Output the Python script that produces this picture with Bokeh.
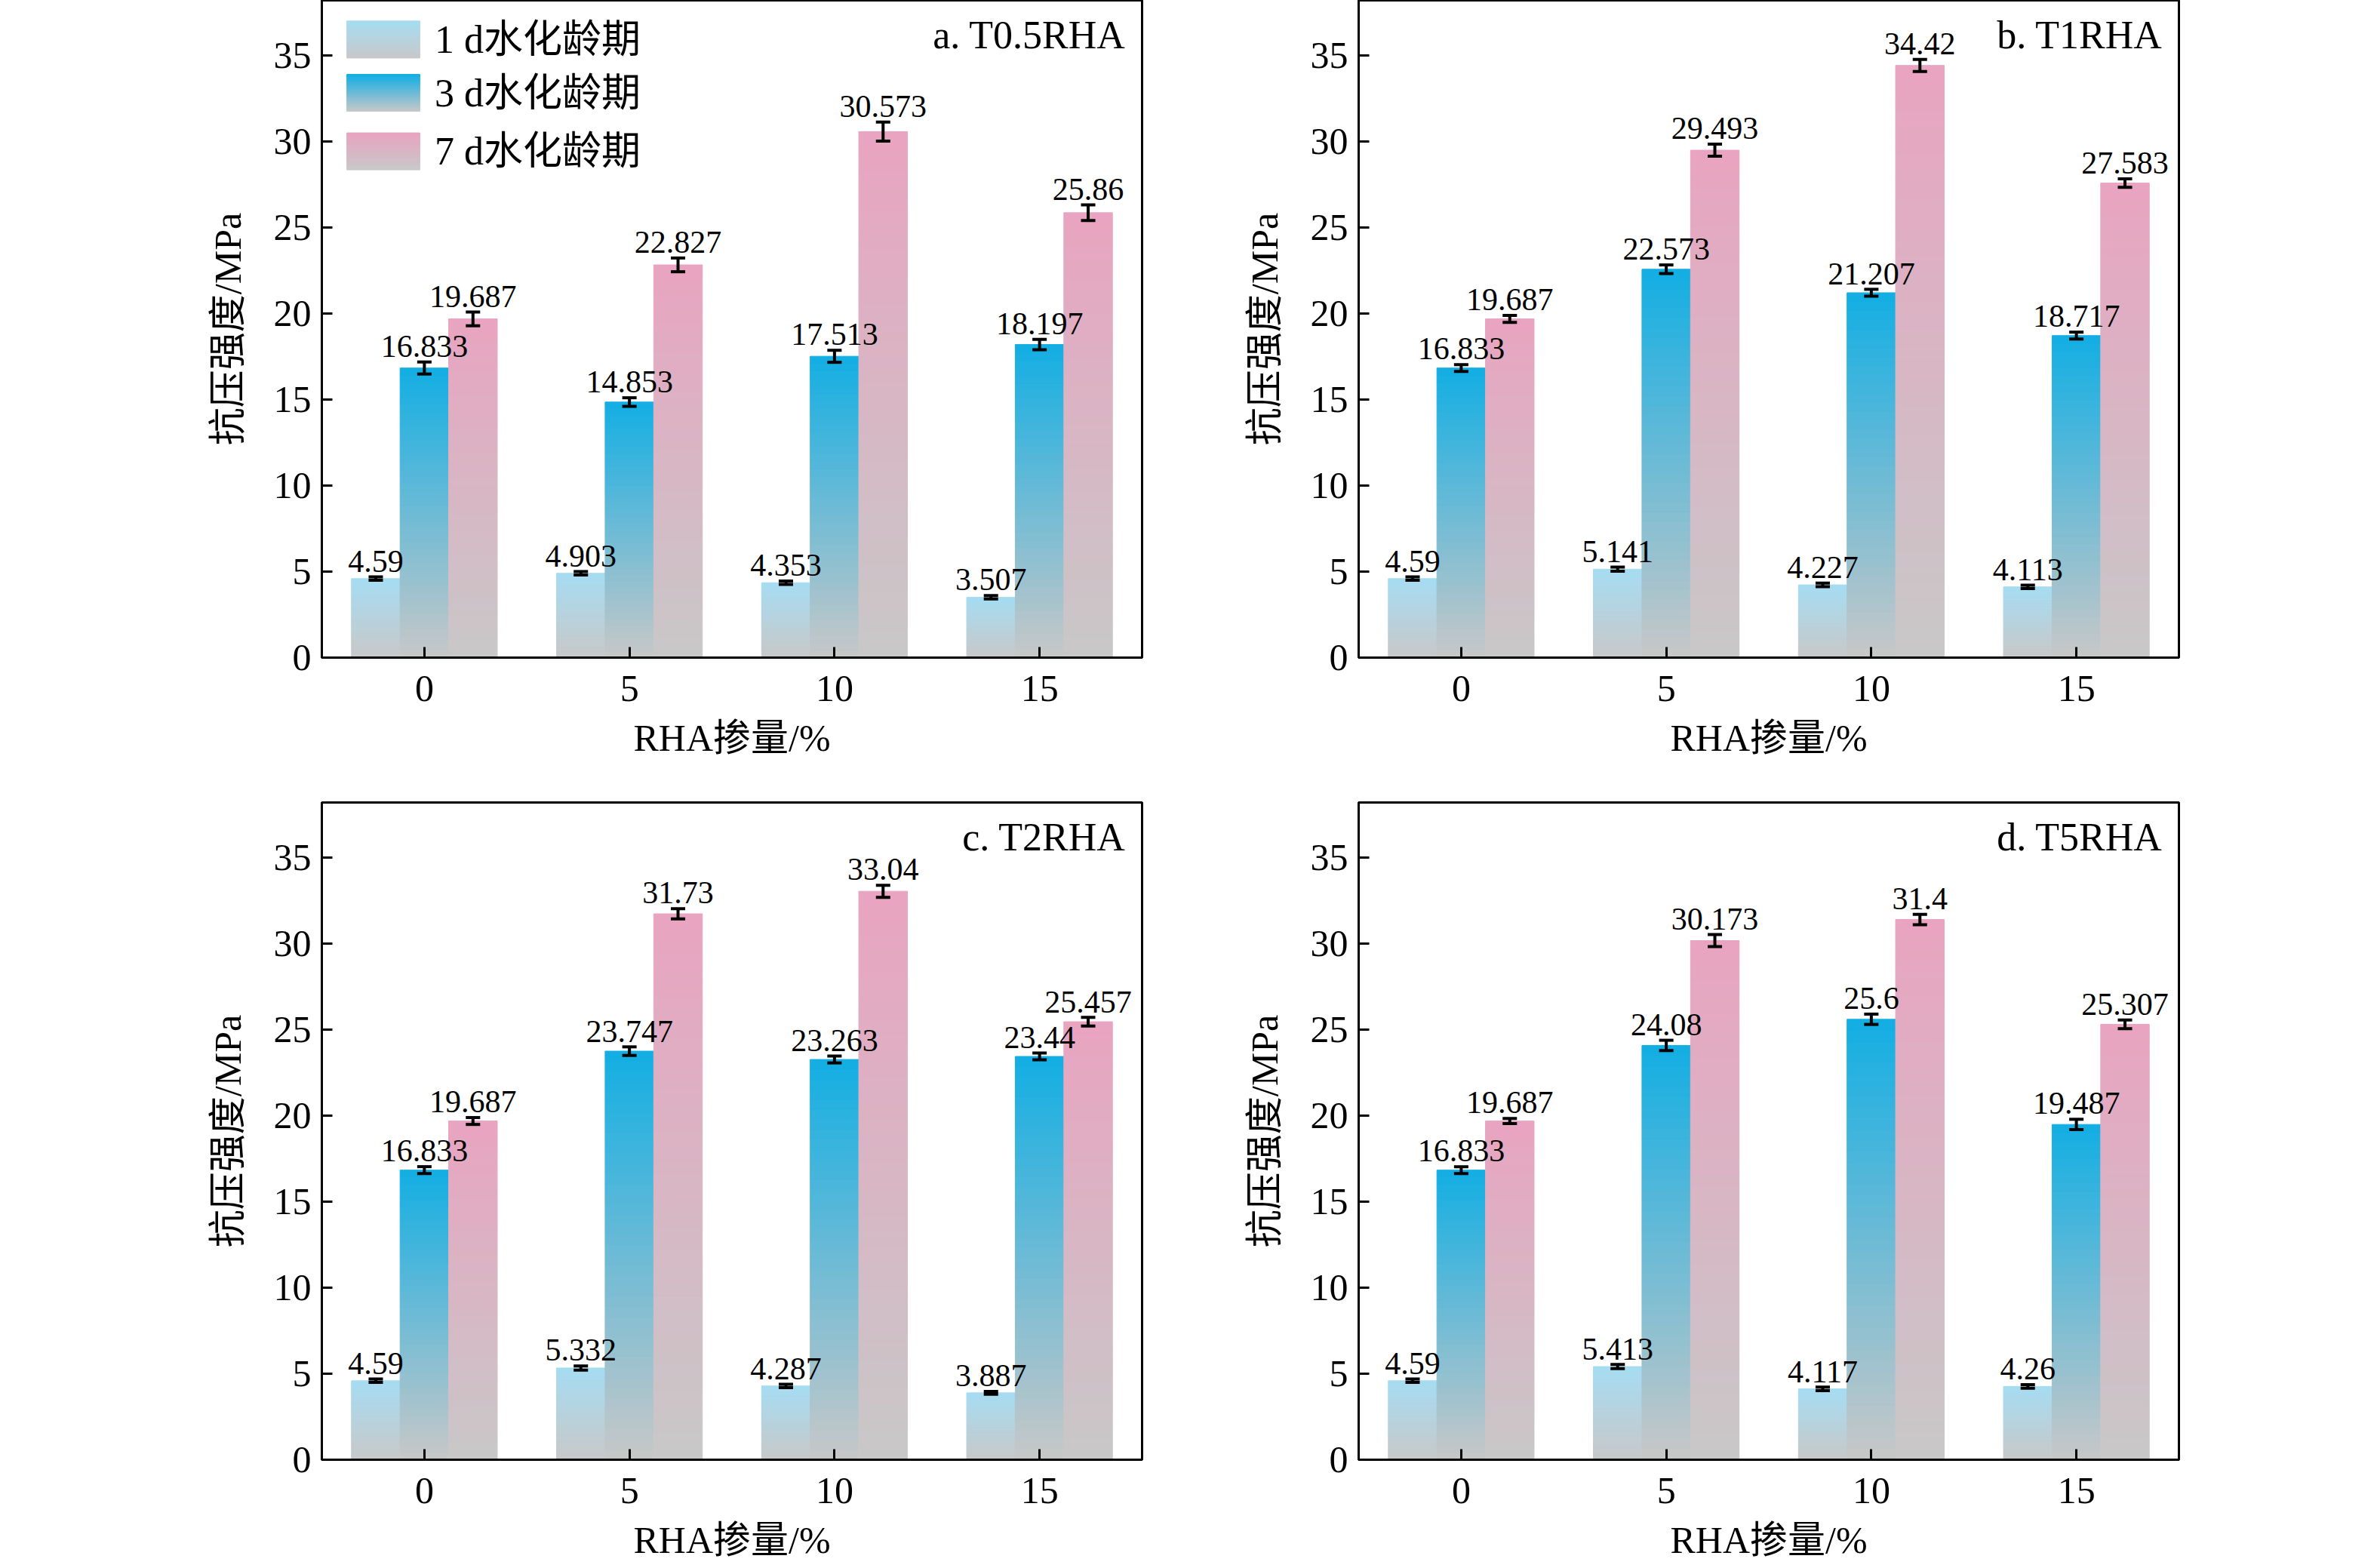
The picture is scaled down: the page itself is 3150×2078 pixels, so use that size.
from bokeh.plotting import figure
from bokeh.layouts import gridplot
from bokeh.models import FixedTicker, Range1d
from bokeh.core.properties import value
from bokeh.embed import file_html
from bokeh.resources import INLINE

FONT = "Liberation Serif, Noto Sans CJK SC"

rha = ["0", "5", "10", "15"]
ages = ["1 d水化龄期", "3 d水化龄期", "7 d水化龄期"]
panels = ["a. T0.5RHA", "b. T1RHA", "c. T2RHA", "d. T5RHA"]

d1 = [[4.59, 4.903, 4.353, 3.507], [4.59, 5.141, 4.227, 4.113],
      [4.59, 5.332, 4.287, 3.887], [4.59, 5.413, 4.117, 4.26]]
d3 = [[16.833, 14.853, 17.513, 18.197], [16.833, 22.573, 21.207, 18.717],
      [16.833, 23.747, 23.263, 23.44], [16.833, 24.08, 25.6, 19.487]]
d7 = [[19.687, 22.827, 30.573, 25.86], [19.687, 29.493, 34.42, 27.583],
      [19.687, 31.73, 33.04, 25.457], [19.687, 30.173, 31.4, 25.307]]
e1 = [[0.1, 0.1, 0.1, 0.1], [0.1, 0.12, 0.1, 0.1],
      [0.1, 0.12, 0.1, 0.08], [0.1, 0.12, 0.1, 0.1]]
e3 = [[0.35, 0.25, 0.35, 0.3], [0.2, 0.25, 0.2, 0.2],
      [0.2, 0.25, 0.2, 0.2], [0.2, 0.3, 0.3, 0.3]]
e7 = [[0.4, 0.4, 0.55, 0.45], [0.2, 0.35, 0.35, 0.25],
      [0.2, 0.3, 0.35, 0.25], [0.15, 0.35, 0.3, 0.25]]

top_colors = [(166, 220, 242), (18, 174, 227), (232, 164, 192)]
bottom_color = (200, 200, 200)
W = 0.237
offsets = [-W, 0, W]
N = 40


def mix(c1, c2, t):
    return "#%02x%02x%02x" % tuple(int(round(a + (b - a) * t)) for a, b in zip(c1, c2))


def grad_bar(p, x0, x1, y0, y1, color):
    bots, tops, cols = [], [], []
    for i in range(N):
        bots.append(y0 + (y1 - y0) * i / N)
        tops.append(y0 + (y1 - y0) * (i + 1) / N)
        cols.append(mix(bottom_color, color, (i + 0.5) / N))
    p.quad(left=[x0] * N, right=[x1] * N, bottom=bots, top=tops,
           fill_color=cols, line_color=cols, line_width=1)


def make(k):
    left = 426 if k % 2 == 0 else 187
    top = 0 if k < 2 else 40
    bottom = 152 if k < 2 else 125
    p = figure(frame_width=1087, frame_height=871, output_backend="svg",
               toolbar_location=None, tools="",
               x_range=Range1d(-0.5, 3.5), y_range=Range1d(0, 38.2),
               min_border_left=left, min_border_right=100 if k % 2 == 0 else 20,
               min_border_top=top, min_border_bottom=bottom)
    p.xgrid.grid_line_color = None
    p.ygrid.grid_line_color = None
    p.outline_line_color = "black"
    p.outline_line_width = 3
    p.background_fill_color = "white"
    for ax in (p.xaxis, p.yaxis):
        ax.axis_line_width = 3
        ax.major_tick_in = 14
        ax.major_tick_out = 0
        ax.major_tick_line_width = 3
        ax.minor_tick_line_color = None
        ax.major_label_text_font = FONT
        ax.major_label_text_font_size = "50px"
        ax.major_label_text_color = "black"
        ax.axis_label_text_font = FONT
        ax.axis_label_text_font_size = "50px"
        ax.axis_label_text_font_style = "normal"
        ax.axis_label_text_color = "black"
    p.xaxis.ticker = FixedTicker(ticks=[0, 1, 2, 3])
    p.xaxis.major_label_overrides = {i: s for i, s in enumerate(rha)}
    p.yaxis.ticker = FixedTicker(ticks=[0, 5, 10, 15, 20, 25, 30, 35])
    p.xaxis.axis_label = "RHA掺量/%"
    p.yaxis.axis_label = "抗压强度/MPa"
    p.xaxis.major_label_standoff = 24
    p.yaxis.major_label_standoff = 14
    p.xaxis.axis_label_standoff = 18
    p.yaxis.axis_label_standoff = 30

    series = [d1[k], d3[k], d7[k]]
    errs = [e1[k], e3[k], e7[k]]
    for s in range(3):
        for i in range(4):
            xc = i + offsets[s]
            grad_bar(p, xc - W / 2, xc + W / 2, 0, series[s][i], top_colors[s])
    for s in range(3):
        xs = [i + offsets[s] for i in range(4)]
        lo = [v - e for v, e in zip(series[s], errs[s])]
        hi = [v + e for v, e in zip(series[s], errs[s])]
        p.segment(x0=xs, x1=xs, y0=lo, y1=hi, line_color="black", line_width=4)
        for yy in (lo, hi):
            p.segment(x0=[x - 0.035 for x in xs], x1=[x + 0.035 for x in xs],
                      y0=yy, y1=yy, line_color="black", line_width=4)
        p.text(x=xs, y=[h + 0.3 for h in hi],
               text=[("%.3f" % v).rstrip("0").rstrip(".") for v in series[s]],
               text_font=value(FONT), text_font_size="42px",
               text_align="center", text_baseline="bottom", text_color="black")

    p.text(x=[3.42], y=[36.2], text=[panels[k]], text_font=value(FONT),
           text_font_size="52px", text_align="right", text_baseline="middle",
           text_color="black")

    if k == 0:
        sw_top = [37.0, 33.9, 30.5]
        sw_h = 2.15
        for s in range(3):
            grad_bar(p, -0.378, -0.022, sw_top[s] - sw_h, sw_top[s], top_colors[s])
        p.text(x=[0.05] * 3, y=[t - sw_h / 2 for t in sw_top], text=ages,
               text_font=value(FONT), text_font_size="52px",
               text_align="left", text_baseline="middle", text_color="black")
    return p


figs = [make(k) for k in range(4)]
grid = gridplot([[figs[0], figs[1]], [figs[2], figs[3]]], toolbar_location=None)
open("out.html", "w").write(file_html(grid, INLINE))
